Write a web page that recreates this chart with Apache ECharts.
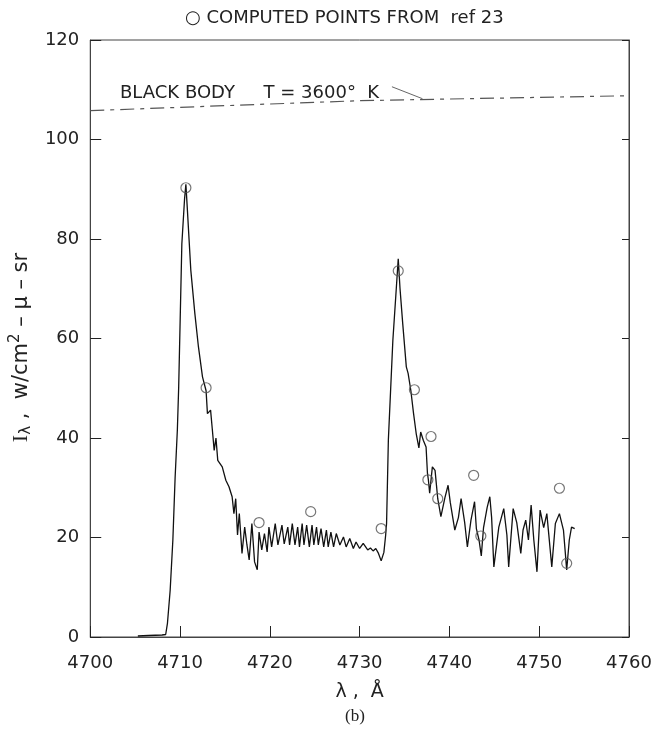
<!DOCTYPE html>
<html>
<head>
<meta charset="utf-8">
<title>Spectral radiance</title>
<script src="https://cdn.jsdelivr.net/npm/echarts@6/dist/echarts.min.js"></script>
<style>
  html, body { margin: 0; padding: 0; background: #fff; }
  #chart { width: 659px; height: 731px; }
</style>
</head>
<body>
<div id="chart"></div>
<script>
// measured spectrum (wavelength in A, intensity)
var specWl = [
  4705.3, 4706.5, 4708.0, 4708.4, 4708.6, 4708.9, 4709.2, 4709.45, 4709.7, 4709.85,
  4710.2, 4710.5, 4710.65, 4710.8, 4711.2, 4711.65, 4712.05, 4712.5, 4712.9, 4713.05,
  4713.4, 4713.6, 4713.8, 4714.0, 4714.2, 4714.7, 4715.1, 4715.45, 4715.8, 4716.0,
  4716.2, 4716.4, 4716.6, 4716.9, 4717.2, 4717.45, 4717.7, 4718.0, 4718.3, 4718.6,
  4718.8, 4719.1, 4719.4, 4719.7, 4719.9, 4720.2, 4720.6, 4720.9, 4721.35, 4721.6,
  4722.0, 4722.2, 4722.5, 4722.8, 4723.1, 4723.3, 4723.6, 4723.8, 4724.1, 4724.4,
  4724.7, 4724.9, 4725.2, 4725.4, 4725.7, 4726.0, 4726.3, 4726.5, 4726.8, 4727.1,
  4727.4, 4727.8, 4728.2, 4728.5, 4728.9, 4729.3, 4729.6, 4730.0, 4730.4, 4730.9,
  4731.2, 4731.5, 4731.8, 4732.1, 4732.4, 4732.7, 4732.9, 4733.0, 4733.2, 4733.7,
  4734.07, 4734.3, 4734.5, 4734.8, 4735.2, 4735.4, 4735.7, 4736.0, 4736.3, 4736.6,
  4736.8, 4737.1, 4737.4, 4737.55, 4737.65, 4737.8, 4738.1, 4738.4, 4738.7, 4739.05,
  4739.5, 4739.85, 4740.1, 4740.6, 4741.0, 4741.3, 4741.7, 4742.0, 4742.4, 4742.8,
  4743.0, 4743.3, 4743.55, 4743.8, 4744.2, 4744.5, 4744.7, 4744.95, 4745.5, 4746.05,
  4746.4, 4746.6, 4747.1, 4747.5, 4747.95, 4748.2, 4748.5, 4748.8, 4749.1, 4749.4,
  4749.75, 4750.1, 4750.5, 4750.85, 4751.4, 4751.8, 4752.25, 4752.7, 4753.06, 4753.35,
  4753.6, 4753.95
];
var specI = [
  0.2, 0.3, 0.4, 0.5, 2.8, 9.4, 19.5, 32, 41.6, 50.3,
  79, 88, 91, 86.4, 73.7, 65, 58.3, 52.3, 49.5, 44.9,
  45.6, 41.6, 37.5, 40, 35.5, 34.2, 31.5, 30.2, 28.2, 24.8,
  27.8, 20.5, 24.8, 16.8, 22.1, 18.5, 15.5, 22.8, 15.1, 13.5,
  21.1, 17.5, 20.8, 17.1, 22.1, 18.1, 22.8, 18.5, 22.5, 18.7,
  22.1, 18.5, 22.8, 18.5, 22.1, 18.1, 22.8, 18.5, 22.5, 18.1,
  22.5, 18.5, 22.1, 18.5, 21.8, 18.1, 21.5, 18.1, 21.1, 18.1,
  20.8, 18.5, 20.1, 18.1, 19.8, 17.8, 19.1, 17.8, 18.8, 17.5,
  17.9, 17.3, 17.8, 16.8, 15.3, 17.0, 20.5, 22.8, 39.6, 59.6,
  69.7, 76, 70, 63, 54.3, 53, 49.6, 45, 40.9, 38,
  41.2, 39.5, 38.2, 33, 31.7, 28.9, 34.2, 33.5, 27.8, 24.2,
  28, 30.5, 27, 21.5, 24, 27.8, 23, 18.1, 23.5, 27.2,
  21.8, 19.5, 16.3, 22, 26, 28.2, 24, 14.1, 22.1, 25.8,
  20.5, 14.1, 25.8, 23, 16.8, 21.5, 23.5, 19.5, 26.5, 19.5,
  13.1, 25.5, 22, 24.8, 14.1, 22.8, 24.8, 21.5, 13.5, 19.5,
  22.1, 21.8
];

// computed points from ref 23
var compWl = [4710.65, 4712.9, 4718.8, 4724.55, 4732.4, 4734.3, 4736.1, 4737.6, 4737.95, 4738.7, 4742.7, 4743.5, 4752.25, 4753.06];
var compI  = [90.3, 50.1, 23, 25.2, 21.8, 73.6, 49.7, 31.6, 40.3, 27.8, 32.5, 20.3, 29.9, 14.8];

// black body T = 3600 K
var bbWl = [4700, 4715, 4730, 4745, 4760];
var bbI  = [105.8, 106.8, 107.8, 108.3, 108.8];

var xTicks = { min: 4700, max: 4760, step: 10 };
var yTicks = { min: 0, max: 120, step: 20 };

function pairs(a, b) {
  var out = [];
  for (var i = 0; i < a.length; i++) out.push([a[i], b[i]]);
  return out;
}

var font = 'DejaVu Sans';
var ink = '#222';

var myChart = echarts.init(document.getElementById('chart'));
var option = {
  backgroundColor: '#fff',
  animation: false,
  title: {
    text: '\u25CB COMPUTED POINTS FROM  ref 23',
    left: 180,
    top: 4,
    textStyle: { fontFamily: font, fontSize: 18, fontWeight: 'normal', color: ink }
  },
  grid: {
    left: 87,
    right: 30,
    top: 40,
    bottom: 94,
    show: true,
    borderColor: '#444',
    borderWidth: 1
  },
  xAxis: {
    type: 'value',
    min: xTicks.min,
    max: xTicks.max,
    interval: xTicks.step,
    name: '\u03BB ,  \u00C5',
    nameLocation: 'middle',
    nameGap: 46,
    nameTextStyle: { fontFamily: font, fontSize: 19, color: ink },
    axisLine: { lineStyle: { color: '#444', width: 1 } },
    axisTick: { inside: true, length: 11, lineStyle: { color: '#222' } },
    axisLabel: {
      margin: 17, fontFamily: font, fontSize: 18, color: ink,
      formatter: function (v) { return String(v); }
    },
    splitLine: { show: false }
  },
  yAxis: [{
    type: 'value',
    min: yTicks.min,
    max: yTicks.max,
    interval: yTicks.step,
    name: '{i|I}{s|\u03BB}{n| ,  w/cm}{p|2}{n| \u2013 \u03BC \u2013 sr}',
    nameLocation: 'middle',
    nameRotate: 90,
    nameGap: 44,
    nameTextStyle: {
      color: ink,
      padding: [0, 18, 0, 0],
      rich: {
        i: { fontFamily: 'Liberation Serif', fontSize: 22, color: ink },
        s: { fontFamily: font, fontSize: 15, color: ink, padding: [10, 0, 0, 0] },
        n: { fontFamily: font, fontSize: 21, color: ink },
        p: { fontFamily: font, fontSize: 15, color: ink, padding: [0, 0, 12, 0] }
      }
    },
    axisLine: { lineStyle: { color: '#444', width: 1 } },
    axisTick: { inside: true, length: 11, lineStyle: { color: '#222' } },
    axisLabel: { margin: 11, fontFamily: font, fontSize: 18, color: ink },
    splitLine: { show: false }
  }, {
    type: 'value',
    position: 'right',
    min: yTicks.min,
    max: yTicks.max,
    interval: yTicks.step,
    axisLine: { show: true, lineStyle: { color: '#444', width: 1 } },
    axisTick: { inside: true, length: 7, lineStyle: { color: '#222' } },
    axisLabel: { show: false },
    splitLine: { show: false }
  }],
  graphic: [{
    type: 'text',
    left: 120,
    top: 84,
    style: { text: 'BLACK BODY     T = 3600\u00B0  K', fontFamily: font, fontSize: 18, fill: ink }
  }, {
    type: 'text',
    left: 345,
    top: 708,
    style: { text: '(b)', fontFamily: 'Liberation Serif', fontSize: 17, fill: ink }
  }],
  series: [{
    name: 'black body',
    type: 'line',
    data: pairs(bbWl, bbI),
    showSymbol: false,
    lineStyle: { color: '#555', width: 1.2, type: [14, 6, 4, 6] },
    markLine: {
      silent: true,
      symbol: 'none',
      label: { show: false },
      lineStyle: { color: '#666', width: 1, type: 'solid' },
      data: [[{ coord: [4733.6, 110.6] }, { coord: [4737.0, 108.2] }]]
    }
  }, {
    name: 'measured',
    type: 'line',
    data: pairs(specWl, specI),
    showSymbol: false,
    lineStyle: { color: '#111', width: 1.3 },
    z: 3
  }, {
    name: 'computed',
    type: 'scatter',
    data: pairs(compWl, compI),
    symbol: 'circle',
    symbolSize: 10,
    itemStyle: { color: 'rgba(255,255,255,0)', borderColor: '#555', borderWidth: 1.2 },
    z: 4
  }]
};
myChart.setOption(option);
window.addEventListener('resize', function () {
  myChart.resize();
});
</script>
</body>
</html>
